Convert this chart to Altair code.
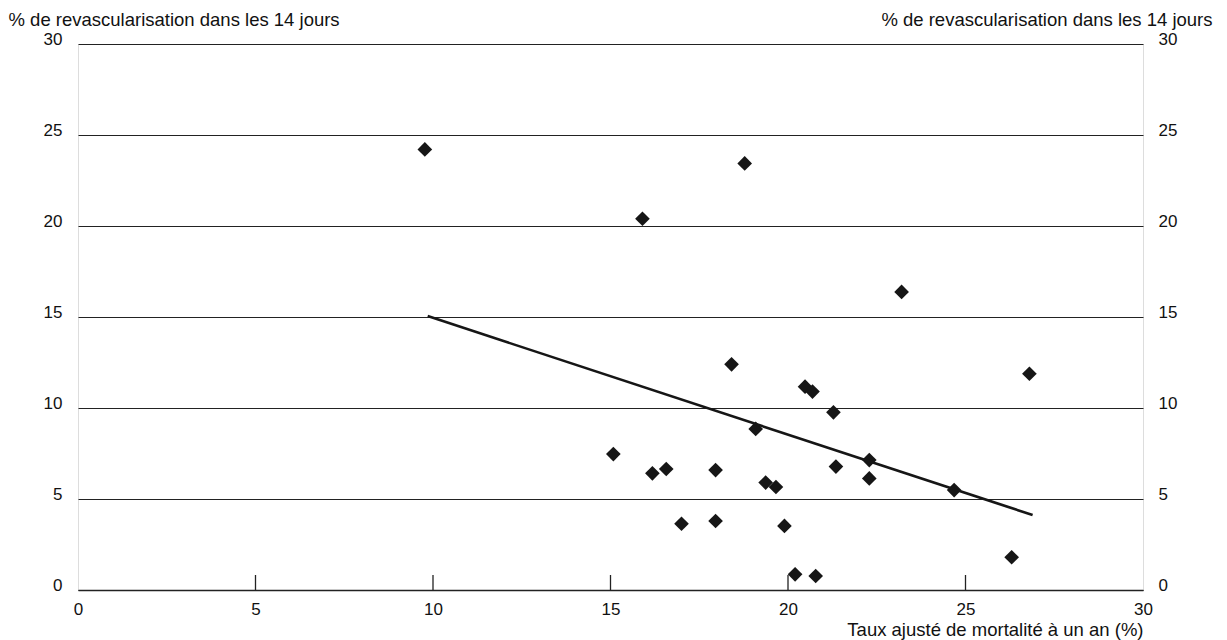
import altair as alt
import pandas as pd

mortality = [9.77, 15.9, 18.78, 23.2, 26.8, 18.41, 15.08, 16.18, 16.57, 17.96,
             19.09, 19.37, 19.66, 20.48, 20.69, 21.28, 21.35, 22.29, 22.29,
             17.0, 17.96, 19.9, 20.2, 20.78, 24.68, 26.3]
revasc = [24.21, 20.4, 23.44, 16.38, 11.88, 12.40, 7.47, 6.41, 6.65, 6.59,
          8.85, 5.90, 5.66, 11.17, 10.90, 9.76, 6.78, 7.14, 6.13,
          3.64, 3.79, 3.52, 0.86, 0.77, 5.49, 1.80]
trend_x = [9.85, 26.89]
trend_y = [15.05, 4.12]
x_ticks = [5, 10, 15, 20, 25]
y_ticks = [0, 5, 10, 15, 20, 25, 30]

pts = pd.DataFrame({"x": mortality, "y": revasc})
trend = pd.DataFrame({"x": trend_x, "y": trend_y})
ticks = pd.DataFrame({"x": x_ticks})

W, H = 1065, 546
FONT = "Liberation Sans"
Y_TITLE = "% de revascularisation dans les 14 jours"
LFS = 17
TFS = 18.5

xscale = alt.Scale(domain=[0, 30], nice=False, zero=False)
yscale = alt.Scale(domain=[0, 30], nice=False, zero=False)

x_axis = alt.Axis(values=[0, 5, 10, 15, 20, 25, 30], orient="bottom", grid=False,
                  domain=True, domainColor="#222222", domainWidth=1.6, ticks=False,
                  labelPadding=11, labelFontSize=LFS, labelColor="#111111",
                  labelFont=FONT, labelFlush=False,
                  title="Taux ajusté de mortalité à un an (%)",
                  titleFont=FONT, titleFontSize=TFS, titleFontWeight="normal",
                  titleColor="#111111", titleAngle=0, titleAlign="right",
                  titleX=W, titleY=45, titleBaseline="alphabetic")

y_left = alt.Axis(values=y_ticks, orient="left", grid=True, gridColor="#222222",
                  gridWidth=1, domain=False, ticks=False, labelPadding=16,
                  labelFontSize=LFS, labelColor="#111111", labelFont=FONT,
                  labelBaseline="alphabetic", labelFlush=False,
                  title=Y_TITLE, titleFont=FONT, titleFontSize=TFS,
                  titleFontWeight="normal", titleColor="#111111", titleAngle=0,
                  titleAlign="left", titleX=-70, titleY=-19,
                  titleBaseline="alphabetic")

y_right = alt.Axis(values=y_ticks, orient="right", grid=False, domain=False,
                   ticks=False, labelPadding=15, labelFontSize=LFS,
                   labelColor="#111111", labelFont=FONT,
                   labelBaseline="alphabetic", labelFlush=False,
                   title=Y_TITLE, titleFont=FONT, titleFontSize=TFS,
                   titleFontWeight="normal", titleColor="#111111", titleAngle=0,
                   titleAlign="right", titleX=69, titleY=-19,
                   titleBaseline="alphabetic")

X = alt.X("x:Q", scale=xscale, axis=x_axis)

points = alt.Chart(pts).mark_point(shape="diamond", filled=True, size=215,
                                   color="#161616", opacity=1).encode(
    x=X,
    y=alt.Y("y:Q", scale=yscale, axis=y_left),
)

points_right = alt.Chart(pts).mark_point(opacity=0, size=1).encode(
    x=X,
    y=alt.Y("y:Q", scale=yscale, axis=y_right),
)

line = alt.Chart(trend).mark_line(color="#161616", strokeWidth=2.6).encode(
    x=X,
    y=alt.Y("y:Q", scale=yscale, axis=None),
)

tick_marks = alt.Chart(ticks).mark_rule(color="#222222", strokeWidth=1.3).encode(
    x=X,
    y=alt.value(H - 15),
    y2=alt.value(H),
)

chart = alt.layer(points, points_right, tick_marks, line).resolve_scale(
    y="independent"
).resolve_axis(x="shared").properties(
    width=W, height=H,
    autosize=alt.AutoSizeParams(type="none"),
    padding={"left": 70, "top": 36, "right": 76, "bottom": 50},
).configure_view(stroke=None).configure(background="white")

chart.save("out.html", embed_options={"renderer": "svg", "actions": False})
